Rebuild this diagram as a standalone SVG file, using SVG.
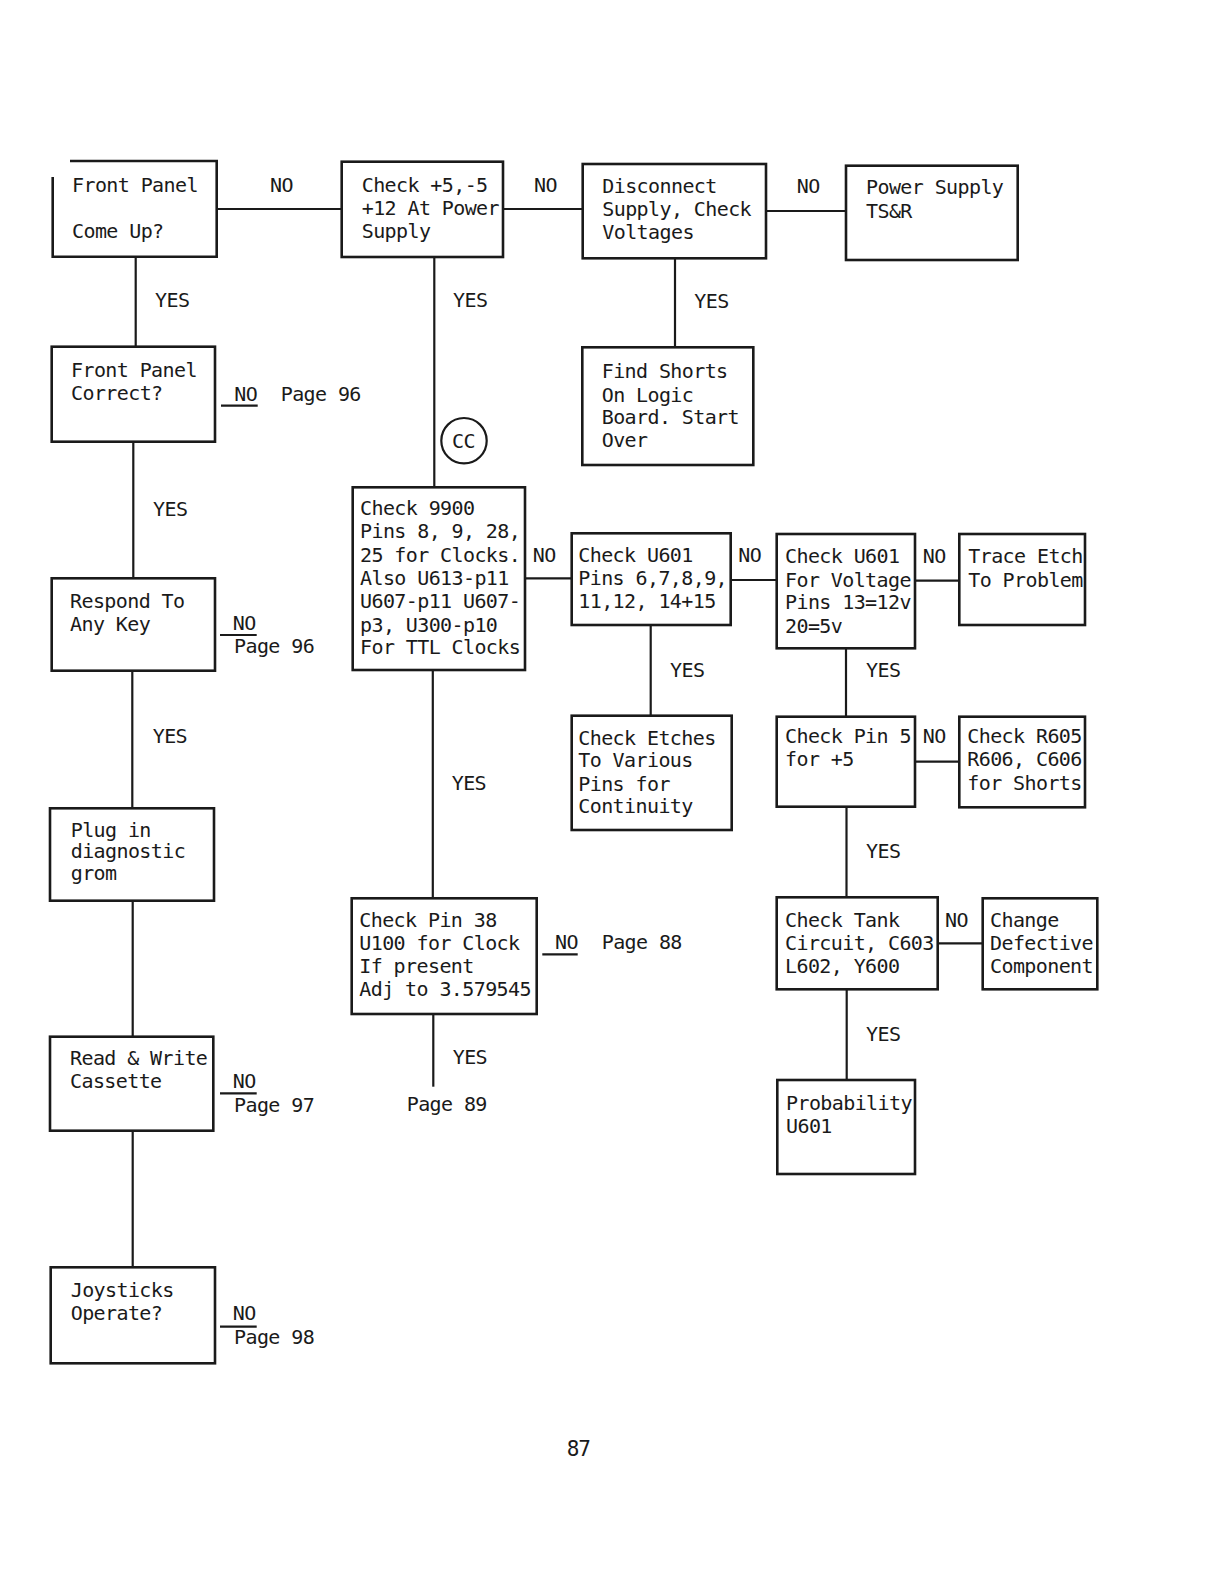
<svg xmlns="http://www.w3.org/2000/svg" width="1221" height="1584" viewBox="0 0 1221 1584">
<style>
.bg{fill:#fff}
.box{fill:none;stroke:#1a1a1a;stroke-width:2.6}
.ln{fill:none;stroke:#1a1a1a;stroke-width:2.2}
.t{font-family:"DejaVu Sans Mono","Liberation Mono",monospace;font-size:20px;letter-spacing:-0.6px;fill:#1a1a1a}
.pg{font-family:"DejaVu Sans Mono","Liberation Mono",monospace;font-size:21px;letter-spacing:-1px;fill:#1a1a1a}
</style>
<rect class="bg" x="0" y="0" width="1221" height="1584"/>
<g id="connectors">
  <line class="ln" x1="216.7" y1="209" x2="341.7" y2="209"/>
  <line class="ln" x1="503" y1="209" x2="582.7" y2="209"/>
  <line class="ln" x1="766" y1="211" x2="846" y2="211"/>
  <line class="ln" x1="135.7" y1="257" x2="135.7" y2="346.7"/>
  <line class="ln" x1="434.3" y1="257" x2="434.3" y2="487.3"/>
  <line class="ln" x1="675" y1="258.3" x2="675" y2="347.3"/>
  <line class="ln" x1="133.3" y1="441.7" x2="133.3" y2="578.3"/>
  <line class="ln" x1="221" y1="405.7" x2="257.7" y2="405.7"/>
  <line class="ln" x1="525" y1="578.3" x2="571.7" y2="578.3"/>
  <line class="ln" x1="730.7" y1="580" x2="776.7" y2="580"/>
  <line class="ln" x1="915" y1="580.7" x2="959.3" y2="580.7"/>
  <line class="ln" x1="650.7" y1="625" x2="650.7" y2="715.7"/>
  <line class="ln" x1="846" y1="648.3" x2="846" y2="716.7"/>
  <line class="ln" x1="915" y1="761.7" x2="959.3" y2="761.7"/>
  <line class="ln" x1="132.3" y1="670.7" x2="132.3" y2="808.3"/>
  <line class="ln" x1="220" y1="635" x2="256.7" y2="635"/>
  <line class="ln" x1="432.8" y1="670" x2="432.8" y2="898.3"/>
  <line class="ln" x1="846.5" y1="806.7" x2="846.5" y2="897.3"/>
  <line class="ln" x1="542.3" y1="954.3" x2="577.7" y2="954.3"/>
  <line class="ln" x1="937.7" y1="943.3" x2="982.7" y2="943.3"/>
  <line class="ln" x1="132.7" y1="900.7" x2="132.7" y2="1036.7"/>
  <line class="ln" x1="433.3" y1="1014" x2="433.3" y2="1086.7"/>
  <line class="ln" x1="846.7" y1="989.3" x2="846.7" y2="1080"/>
  <line class="ln" x1="220" y1="1093.3" x2="256.7" y2="1093.3"/>
  <line class="ln" x1="132.7" y1="1130.7" x2="132.7" y2="1267.3"/>
  <line class="ln" x1="220" y1="1326.7" x2="256.7" y2="1326.7"/>
  <circle class="ln" cx="464" cy="440.7" r="22.7"/>
  <text class="t" x="452" y="447.5" font-size="18">CC</text>
  <text class="t" x="270" y="192">NO</text>
  <text class="t" x="534" y="192">NO</text>
  <text class="t" x="796.7" y="193.3">NO</text>
  <text class="t" x="155" y="306.7">YES</text>
  <text class="t" x="453" y="306.7">YES</text>
  <text class="t" x="694.3" y="308.3">YES</text>
  <text class="t" x="234.3" y="400.7">NO</text>
  <text class="t" x="280.7" y="400.7">Page 96</text>
  <text class="t" x="153" y="516">YES</text>
  <text class="t" x="532.7" y="561.7">NO</text>
  <text class="t" x="738.3" y="561.7">NO</text>
  <text class="t" x="922.7" y="563.3">NO</text>
  <text class="t" x="232.7" y="630">NO</text>
  <text class="t" x="234" y="652.7">Page 96</text>
  <text class="t" x="670" y="676.7">YES</text>
  <text class="t" x="866" y="676.7">YES</text>
  <text class="t" x="152.7" y="743.3">YES</text>
  <text class="t" x="922.7" y="743.3">NO</text>
  <text class="t" x="451.7" y="790">YES</text>
  <text class="t" x="866" y="858">YES</text>
  <text class="t" x="555" y="949.3">NO</text>
  <text class="t" x="601.7" y="949.3">Page 88</text>
  <text class="t" x="945" y="927.3">NO</text>
  <text class="t" x="866" y="1040.7">YES</text>
  <text class="t" x="452.7" y="1064">YES</text>
  <text class="t" x="406.7" y="1110.7">Page 89</text>
  <text class="t" x="232.7" y="1088.3">NO</text>
  <text class="t" x="234" y="1111.7">Page 97</text>
  <text class="t" x="232.7" y="1320">NO</text>
  <text class="t" x="234" y="1344">Page 98</text>
</g>
<g id="n-frontpanel">
  <path class="box" d="M70,161 H216.7 V256.7 H52.7 V177"/>
  <text class="t" x="72" y="191.7">Front Panel</text>
  <text class="t" x="72" y="238">Come Up?</text>
</g>
<g id="n-check5">
  <rect class="box" x="341.7" y="161.7" width="161.3" height="95.3"/>
  <text class="t" x="361.7" y="192">Check +5,-5</text>
  <text class="t" x="361.7" y="215">+12 At Power</text>
  <text class="t" x="361.7" y="238">Supply</text>
</g>
<g id="n-disconnect">
  <rect class="box" x="582.7" y="164" width="183.3" height="94.3"/>
  <text class="t" x="602.3" y="192.7">Disconnect</text>
  <text class="t" x="602.3" y="216">Supply, Check</text>
  <text class="t" x="602.3" y="239.3">Voltages</text>
</g>
<g id="n-powersupply">
  <rect class="box" x="846" y="165.7" width="171.7" height="94.3"/>
  <text class="t" x="866" y="194.3">Power Supply</text>
  <text class="t" x="866" y="217.7">TS&amp;R</text>
</g>
<g id="n-findshorts">
  <rect class="box" x="582.3" y="347.3" width="171" height="117.7"/>
  <text class="t" x="601.7" y="378.3">Find Shorts</text>
  <text class="t" x="601.7" y="401.7">On Logic</text>
  <text class="t" x="601.7" y="424">Board. Start</text>
  <text class="t" x="601.7" y="446.7">Over</text>
</g>
<g id="n-fpcorrect">
  <rect class="box" x="51.7" y="346.7" width="163.3" height="95"/>
  <text class="t" x="71" y="377">Front Panel</text>
  <text class="t" x="71" y="400">Correct?</text>
</g>
<g id="n-check9900">
  <rect class="box" x="352.7" y="487.3" width="172.3" height="182.7"/>
  <text class="t" x="360" y="515">Check 9900</text>
  <text class="t" x="360" y="538.3">Pins 8, 9, 28,</text>
  <text class="t" x="360" y="561.7">25 for Clocks.</text>
  <text class="t" x="360" y="585">Also U613-p11</text>
  <text class="t" x="360" y="608.3">U607-p11 U607-</text>
  <text class="t" x="360" y="631.7">p3, U300-p10</text>
  <text class="t" x="360" y="654.3">For TTL Clocks</text>
</g>
<g id="n-u601pins">
  <rect class="box" x="571.7" y="533.3" width="159" height="91.7"/>
  <text class="t" x="578.3" y="561.7">Check U601</text>
  <text class="t" x="578.3" y="585">Pins 6,7,8,9,</text>
  <text class="t" x="578.3" y="608.3">11,12, 14+15</text>
</g>
<g id="n-u601volt">
  <rect class="box" x="776.7" y="534" width="138.3" height="114.3"/>
  <text class="t" x="785" y="563.3">Check U601</text>
  <text class="t" x="785" y="586.7">For Voltage</text>
  <text class="t" x="785" y="609.3">Pins 13=12v</text>
  <text class="t" x="785" y="632.5">20=5v</text>
</g>
<g id="n-traceetch">
  <rect class="box" x="959.3" y="534" width="125.7" height="91"/>
  <text class="t" x="968.3" y="563.3">Trace Etch</text>
  <text class="t" x="968.3" y="586.7">To Problem</text>
</g>
<g id="n-respond">
  <rect class="box" x="51.7" y="578.3" width="163.3" height="92.4"/>
  <text class="t" x="70" y="608.3">Respond To</text>
  <text class="t" x="70" y="630.7">Any Key</text>
</g>
<g id="n-etches">
  <rect class="box" x="571.7" y="715.7" width="160" height="114.3"/>
  <text class="t" x="578.3" y="745">Check Etches</text>
  <text class="t" x="578.3" y="767.3">To Various</text>
  <text class="t" x="578.3" y="790.7">Pins for</text>
  <text class="t" x="578.3" y="813.3">Continuity</text>
</g>
<g id="n-pin5">
  <rect class="box" x="776.7" y="716.7" width="138.3" height="90"/>
  <text class="t" x="785" y="743.3">Check Pin 5</text>
  <text class="t" x="785" y="766">for +5</text>
</g>
<g id="n-r605">
  <rect class="box" x="959.3" y="716.7" width="125.7" height="90.6"/>
  <text class="t" x="967.3" y="743.3">Check R605</text>
  <text class="t" x="967.3" y="766">R606, C606</text>
  <text class="t" x="967.3" y="790">for Shorts</text>
</g>
<g id="n-plugin">
  <rect class="box" x="50" y="808.3" width="164" height="92.4"/>
  <text class="t" x="70.7" y="836.7">Plug in</text>
  <text class="t" x="70.7" y="858.3">diagnostic</text>
  <text class="t" x="70.7" y="880">grom</text>
</g>
<g id="n-pin38">
  <rect class="box" x="351.7" y="898.3" width="185" height="115.7"/>
  <text class="t" x="359.3" y="927.3">Check Pin 38</text>
  <text class="t" x="359.3" y="950">U100 for Clock</text>
  <text class="t" x="359.3" y="972.7">If present</text>
  <text class="t" x="359.3" y="995.7">Adj to 3.579545</text>
</g>
<g id="n-tank">
  <rect class="box" x="776.7" y="897.3" width="161" height="92"/>
  <text class="t" x="785" y="927.3">Check Tank</text>
  <text class="t" x="785" y="950">Circuit, C603</text>
  <text class="t" x="785" y="972.7">L602, Y600</text>
</g>
<g id="n-change">
  <rect class="box" x="982.7" y="898.3" width="114.6" height="91"/>
  <text class="t" x="990" y="927.3">Change</text>
  <text class="t" x="990" y="950">Defective</text>
  <text class="t" x="990" y="972.7">Component</text>
</g>
<g id="n-readwrite">
  <rect class="box" x="50" y="1036.7" width="163.3" height="94"/>
  <text class="t" x="70" y="1065">Read &amp; Write</text>
  <text class="t" x="70" y="1088.3">Cassette</text>
</g>
<g id="n-probability">
  <rect class="box" x="777.3" y="1080" width="137.7" height="94"/>
  <text class="t" x="786" y="1110">Probability</text>
  <text class="t" x="786" y="1132.7">U601</text>
</g>
<g id="n-joysticks">
  <rect class="box" x="50.7" y="1267.3" width="164.3" height="96"/>
  <text class="t" x="70.7" y="1297.3">Joysticks</text>
  <text class="t" x="70.7" y="1320">Operate?</text>
</g>
<text class="pg" x="566.7" y="1456">87</text>
</svg>
